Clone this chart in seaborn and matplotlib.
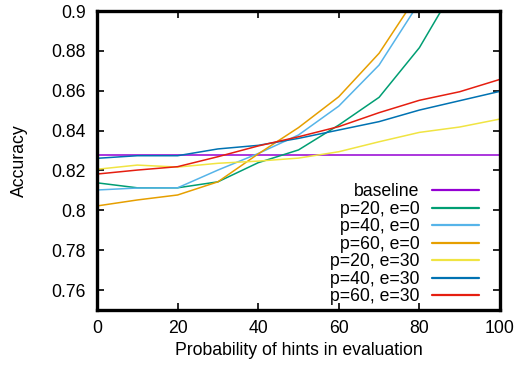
import numpy as np
import pandas as pd
import matplotlib
matplotlib.use("Agg")
import matplotlib.pyplot as plt
import seaborn as sns

x = [0, 10, 20, 30, 40, 50, 60, 70, 80, 90, 100]
baseline = [0.828] * 11
p20_e0 = [0.8138, 0.8113, 0.8113, 0.8143, 0.8239, 0.8303, 0.8428, 0.8567, 0.8816, 0.916, 0.940]
p40_e0 = [0.8102, 0.8112, 0.8113, 0.8202, 0.8285, 0.8378, 0.8523, 0.8729, 0.9044, 0.930, 0.950]
p60_e0 = [0.8022, 0.8052, 0.8077, 0.8143, 0.8283, 0.8415, 0.8570, 0.8788, 0.9095, 0.935, 0.955]
p20_e30 = [0.8206, 0.8227, 0.8217, 0.8236, 0.8247, 0.8262, 0.8294, 0.8344, 0.8391, 0.8418, 0.8458]
p40_e30 = [0.8261, 0.8274, 0.8274, 0.8308, 0.8326, 0.8361, 0.8403, 0.8445, 0.8503, 0.8550, 0.8597]
p60_e30 = [0.8182, 0.8202, 0.8219, 0.8269, 0.8323, 0.8369, 0.8420, 0.8490, 0.8552, 0.8595, 0.8657]

labels = ["baseline", "p=20, e=0", "p=40, e=0", "p=60, e=0",
          "p=20, e=30", "p=40, e=30", "p=60, e=30"]
series = [baseline, p20_e0, p40_e0, p60_e0, p20_e30, p40_e30, p60_e30]
colors = ["#9400d3", "#009e73", "#56b4e9", "#e69f00", "#f0e442", "#0072b2", "#e51e10"]

df = pd.DataFrame({
    "x": np.tile(x, len(labels)),
    "acc": np.concatenate(series),
    "series": np.repeat(labels, len(x)),
})

sns.set_style("ticks")
plt.rcParams["font.family"] = ["Liberation Sans", "DejaVu Sans"]
plt.rcParams["text.color"] = "black"
plt.rcParams["axes.labelcolor"] = "black"
fs = 12.7

fig = plt.figure(figsize=(5.17, 3.67), dpi=100)
ax = fig.add_axes([97 / 517, 1 - 310 / 367, (500 - 97) / 517, (310 - 11) / 367])

sns.lineplot(data=df, x="x", y="acc", hue="series", hue_order=labels,
             palette=dict(zip(labels, colors)), linewidth=1.1, ax=ax,
             legend=True)

ax.set_xlim(0, 100)
ax.set_ylim(0.75, 0.9)
ax.set_xticks([0, 20, 40, 60, 80, 100])
ax.set_xticklabels(["0", "20", "40", "60", "80", "100"])
yt = [0.76, 0.78, 0.8, 0.82, 0.84, 0.86, 0.88, 0.9]
ax.set_yticks(yt)
ax.set_yticklabels(["0.76", "0.78", "0.8", "0.82", "0.84", "0.86", "0.88", "0.9"])
ax.tick_params(direction="in", length=5, width=1.2, top=True, right=True,
               labelsize=fs, colors="black", labelcolor="black", pad=8)
ax.tick_params(axis="x", pad=7)
for s in ax.spines.values():
    s.set_linewidth(2.4)
    s.set_color("black")
ax.set_xlabel("Probability of hints in evaluation", fontsize=fs, labelpad=4, color="black")
ax.set_ylabel("Accuracy", fontsize=fs, labelpad=17, color="black")

handles, lbls = ax.get_legend_handles_labels()
leg = ax.legend(handles, lbls, loc="lower right", bbox_to_anchor=(0.975, -0.02),
                frameon=False, markerfirst=False, fontsize=fs,
                handlelength=2.7, handletextpad=0.7, labelspacing=0.03,
                borderaxespad=0.2)
for t in leg.get_texts():
    t.set_color("black")
for h in leg.get_lines():
    h.set_linewidth(1.6)

fig.savefig("out.png", dpi=100)
